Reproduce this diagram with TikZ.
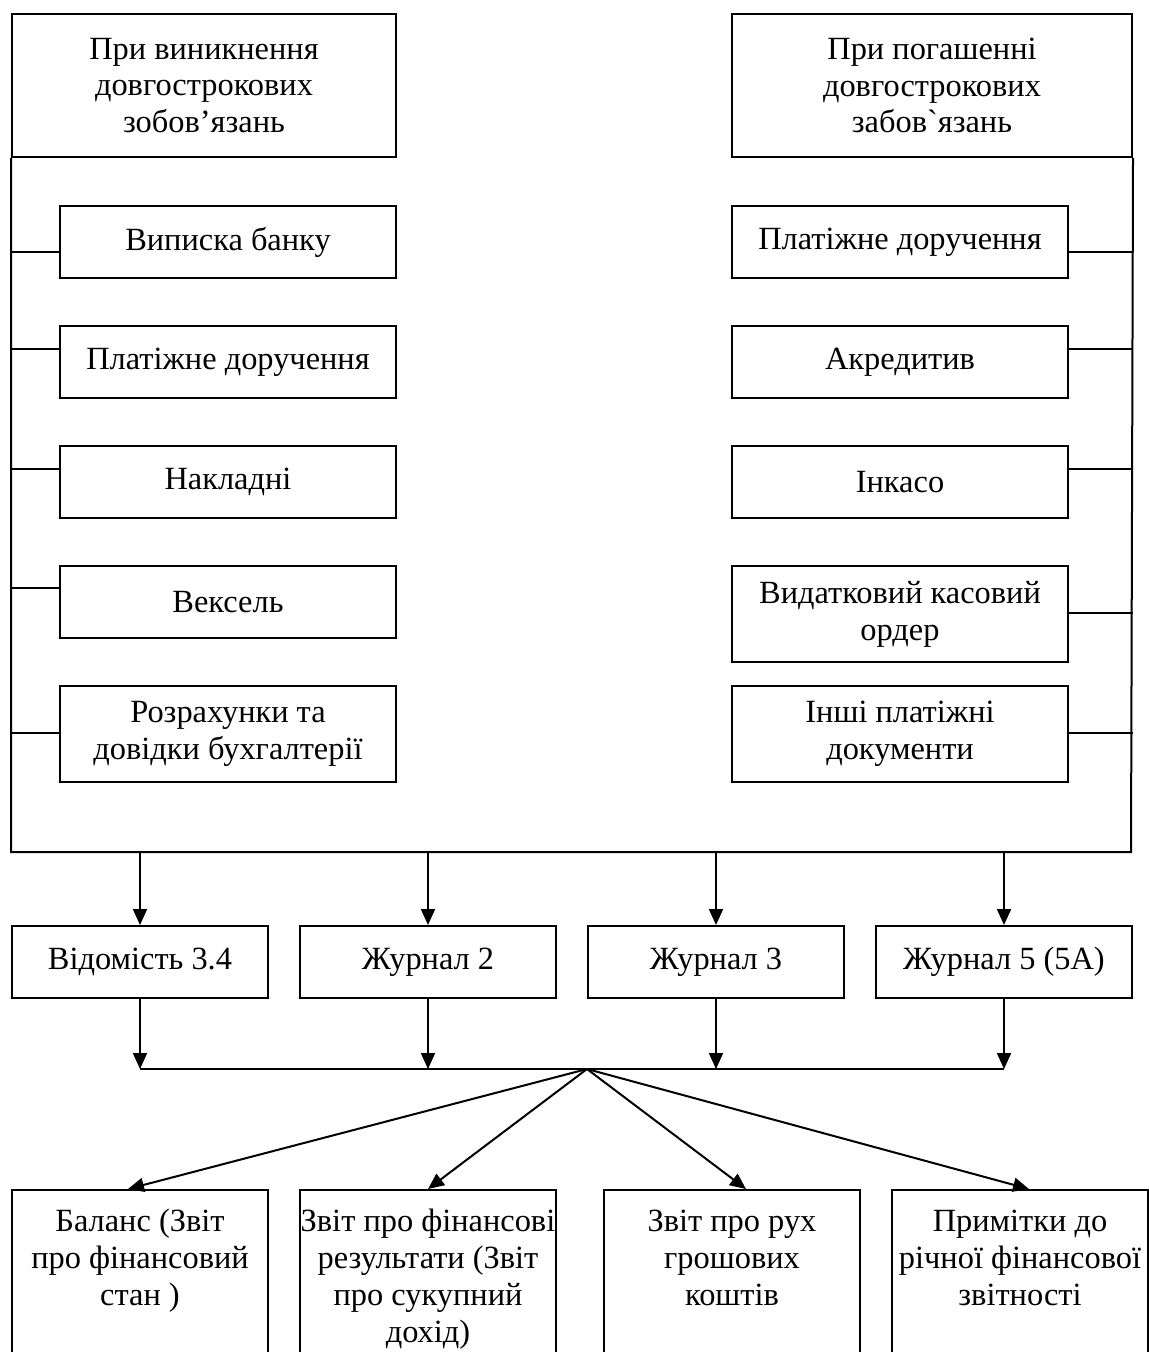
\documentclass[tikz,border=0pt]{standalone}
\usepackage{fontspec}
\setmainfont{Liberation Serif}
\usetikzlibrary{arrows.meta,calc}

\newcommand\reptext[1]{\parbox[t][150pt][t]{128pt}{\centering\strut #1}}

\begin{document}
\begin{tikzpicture}[x=0.5pt,y=-0.5pt,line width=1pt,
  every node/.style={font=\fontsize{16.2}{18.4}\selectfont},
  doc/.style={draw,minimum width=168pt,minimum height=36pt,align=center,inner sep=0pt,anchor=north west},
  doctall/.style={doc,minimum height=48pt},
  head/.style={draw,minimum height=71.5pt,align=center,inner sep=0pt,anchor=north west},
  jrnl/.style={doc,minimum width=128pt},
  rep/.style={draw,inner xsep=0pt,inner ysep=8pt,anchor=north west},
  arr/.style={-{Triangle[length=8pt,width=7pt]}}]
\useasboundingbox (0,0) rectangle (1148,1352);

\node[head,minimum width=192pt] (topL) at (11,13) {При виникнення\\довгострокових\\зобов’язань};
\node[head,minimum width=200pt] (topR) at (731,13) {При погашенні\\довгострокових\\забов\textasciigrave язань};

\node[doc] (l1) at (59,205) {Виписка банку};
\node[doc] (l2) at (59,325) {Платіжне доручення};
\node[doc] (l3) at (59,445) {Накладні};
\node[doc] (l4) at (59,565) {Вексель};
\node[doctall] (l5) at (59,685) {Розрахунки та\\довідки бухгалтерії};

\node[doc] (r1) at (731,205) {Платіжне доручення};
\node[doc] (r2) at (731,325) {Акредитив};
\node[doc] (r3) at (731,445) {Інкасо};
\node[doctall] (r4) at (731,565) {Видатковий касовий\\ордер};
\node[doctall] (r5) at (731,685) {Інші платіжні\\документи};

\coordinate (fl) at (11,852);
\coordinate (fr) at (1131,852);
\draw (topL.south west) -- (fl) -- (fr) -- (topR.south east);

\foreach \n/\d in {l1/47,l2/24,l3/24,l4/23,l5/48}
  \draw ($(\n.north west)+(0,\d)$) coordinate (c) -- (c -| topL.west);
\foreach \n/\d in {r1/47,r2/24,r3/24,r4/48,r5/48}
  \draw ($(\n.north east)+(0,\d)$) coordinate (c) -- (c -| topR.east);

\node[jrnl] (j1) at (11,925) {Відомість 3.4};
\node[jrnl] (j2) at (299,925) {Журнал 2};
\node[jrnl] (j3) at (587,925) {Журнал 3};
\node[jrnl] (j4) at (875,925) {Журнал 5 (5А)};

\coordinate (hub) at (587,1069);
\foreach \n in {j1,j2,j3,j4} {
  \draw[arr] (\n.north |- fl) -- (\n.north);
  \draw[arr] (\n.south) -- (\n.south |- hub);
}
\draw (j1.south |- hub) -- (j4.south |- hub);

\node[rep] (b1) at (11,1189) {\reptext{Баланс (Звіт\\про фінансовий\\стан )}};
\node[rep] (b2) at (299,1189) {\reptext{Звіт про фінансові\\результати (Звіт\\про сукупний\\дохід)}};
\node[rep] (b3) at (603,1189) {\reptext{Звіт про рух\\грошових\\коштів}};
\node[rep] (b4) at (891,1189) {\reptext{Примітки до\\річної фінансової\\звітності}};

\draw[arr] (hub) -- ([xshift=-6pt]b1.north);
\draw[arr] (hub) -- (b2.north);
\draw[arr] (hub) -- ([xshift=7pt]b3.north);
\draw[arr] (hub) -- ([xshift=4.5pt]b4.north);
\end{tikzpicture}
\end{document}
